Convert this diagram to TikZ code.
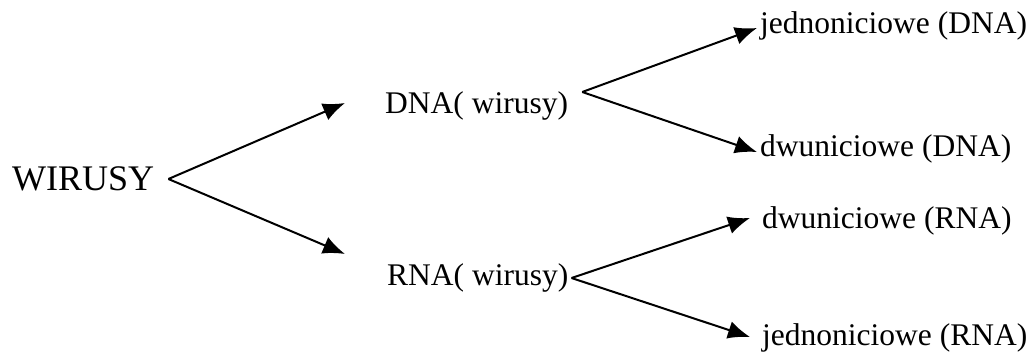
\documentclass[tikz,border=0pt]{standalone}
\usepackage{fontspec}
\setmainfont{Liberation Serif}
\usetikzlibrary{arrows.meta}

\begin{document}
\begin{tikzpicture}[x=1pt,y=-1pt]
	\useasboundingbox (0,0) rectangle (1034,356);
	\begin{scope}[every node/.style={inner sep=0pt,anchor=base west,font=\fontsize{31.5}{36}\selectfont}]
		\node (wir) at (12,190) [font=\fontsize{36}{40}\selectfont] {WIRUSY};
		\node (dna) at (385,113) {DNA( wirusy)};
		\node (rna) at (387,285) {RNA( wirusy)};
		\node (jd) at (760,34) {jednoniciowe (DNA)};
		\node (dd) at (760,156) {dwuniciowe (DNA)};
		\node (dr) at (762,228) {dwuniciowe (RNA)};
		\node (jr) at (762,345) {jednoniciowe (RNA)};
	\end{scope}
	
	\begin{scope}[every edge/.style={draw=black,line width=2pt}]
		\path [-{Latex[length=22pt,width=18pt]}] ([shift={(14,-11)}]wir.base east) edge ([shift={(-40,-10)}]dna.base west);
		\path [-{Latex[length=22pt,width=18pt]}] ([shift={(14,-11)}]wir.base east) edge ([shift={(-42,-31)}]rna.base west);
		\path [-{Latex[length=22pt,width=18pt]}] ([shift={(14,-21)}]dna.base east) edge ([shift={(-3,-6)}]jd.base west);
		\path [-{Latex[length=22pt,width=18pt]}] ([shift={(14,-21)}]dna.base east) edge ([shift={(-3,-4)}]dd.base west);
		\path [-{Latex[length=22pt,width=18pt]}] ([shift={(3,-7)}]rna.base east) edge ([shift={(-12,-10)}]dr.base west);
		\path [-{Latex[length=22pt,width=18pt]}] ([shift={(3,-7)}]rna.base east) edge ([shift={(-12,-8)}]jr.base west);
	\end{scope}
\end{tikzpicture}
\end{document}
